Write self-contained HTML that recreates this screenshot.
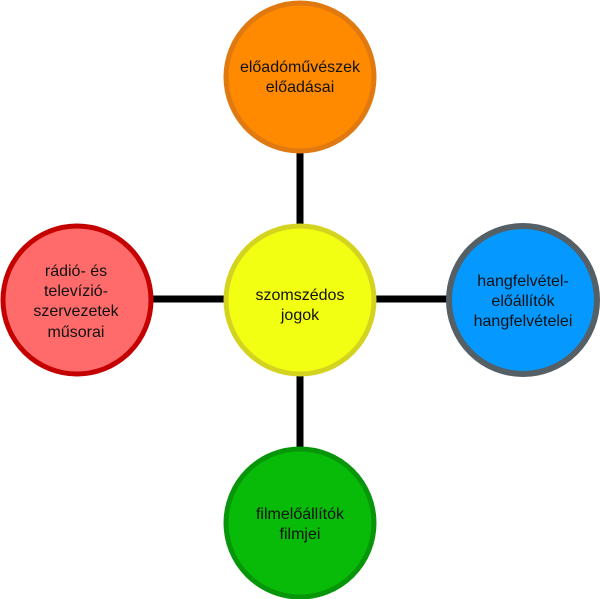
<!DOCTYPE html>
<html><head><meta charset="utf-8">
<style>
html,body{margin:0;padding:0;background:#fff;}
svg{display:block;}
text{font-family:"Liberation Sans",sans-serif;font-size:16px;fill:#111;text-anchor:middle;}
</style></head><body>
<svg width="600" height="599" viewBox="0 0 600 599" xmlns="http://www.w3.org/2000/svg">
<g stroke="#000" stroke-width="7">
<line x1="300" y1="150" x2="300" y2="226"/>
<line x1="300" y1="374" x2="300" y2="450"/>
<line x1="150" y1="299" x2="226" y2="299"/>
<line x1="374" y1="299" x2="450" y2="299"/>
</g>
<circle cx="300" cy="77" r="74" fill="#ff8a00" stroke="#e07a10" stroke-width="5"/>
<circle cx="300" cy="300" r="74" fill="#f2ff12" stroke="#d4d420" stroke-width="5"/>
<circle cx="77" cy="300" r="74" fill="#ff6b6b" stroke="#c40000" stroke-width="5"/>
<circle cx="523" cy="300" r="74" fill="#0599ff" stroke="#555f66" stroke-width="6"/>
<circle cx="300" cy="523" r="74" fill="#08bb08" stroke="#07960a" stroke-width="5"/>
<text x="300" y="72">előadóművészek</text>
<text x="300" y="92">előadásai</text>
<text x="300" y="300">szomszédos</text>
<text x="300" y="320">jogok</text>
<text x="76" y="276">rádió- és</text>
<text x="76" y="296">televízió-</text>
<text x="76" y="316">szervezetek</text>
<text x="76" y="337">műsorai</text>
<text x="523" y="286">hangfelvétel-</text>
<text x="523" y="306">előállítók</text>
<text x="523" y="326">hangfelvételei</text>
<text x="300" y="519">filmelőállítók</text>
<text x="300" y="539">filmjei</text>
</svg>
</body></html>
